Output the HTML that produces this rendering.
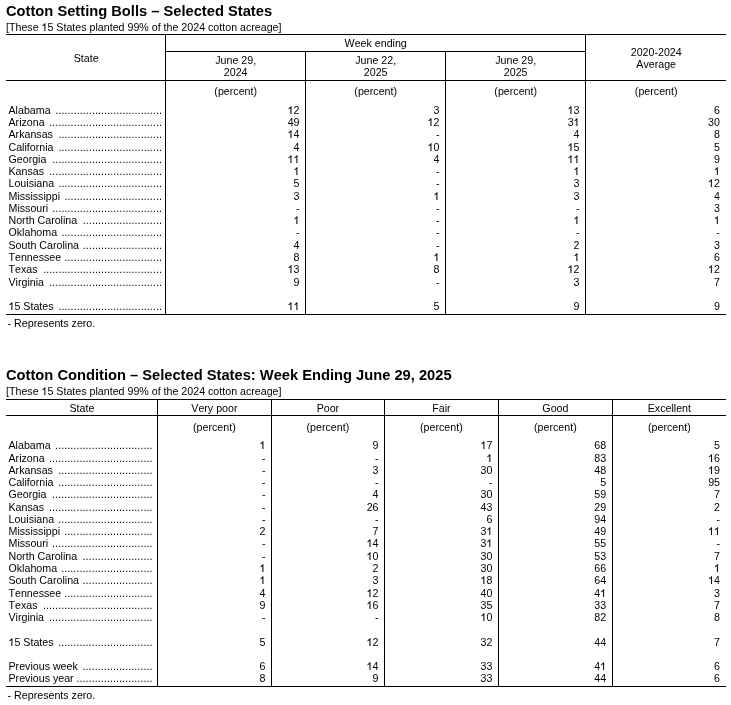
<!DOCTYPE html>
<html><head><meta charset="utf-8"><title>Cotton</title>
<style>
html,body{margin:0;padding:0;background:#fff;}
body{width:731px;height:705px;position:relative;overflow:hidden;font-family:"Liberation Sans",sans-serif;font-size:10.667px;color:#000;font-kerning:none;}
.t{position:absolute;white-space:nowrap;line-height:1;}
.h{position:absolute;background:#000;height:1px;}
.v{position:absolute;background:#000;width:1px;}
.ttl{font-weight:bold;font-size:14.7px;}
.c{text-align:center;}
.r{text-align:right;}
.o{color:transparent;}
.ov{position:absolute;left:0;top:0;width:731px;height:705px;fill:#000;stroke:#000;stroke-width:20;pointer-events:none;}
.d{text-align:right;letter-spacing:0.0862px;}
#w{position:absolute;left:0;top:0;width:731px;height:705px;will-change:transform;}
</style></head><body><div id="w">

<div class="t ttl" style="left:6px;top:4px;">Cotton Setting Bolls &ndash; Selected States</div>
<div class="t " style="left:6px;top:22px;">[These <span class="o">1</span>5 States planted 99% of the 2024 cotton acreage]</div>
<div class="h" style="left:6px;top:34px;width:720px"></div>
<div class="h" style="left:165px;top:51px;width:420px"></div>
<div class="h" style="left:6px;top:80px;width:720px"></div>
<div class="h" style="left:6px;top:314px;width:720px"></div>
<div class="v" style="left:165px;top:34px;height:280px"></div>
<div class="v" style="left:305px;top:51px;height:263px"></div>
<div class="v" style="left:445px;top:51px;height:263px"></div>
<div class="v" style="left:585px;top:34px;height:280px"></div>
<div class="t c" style="left:6.7px;top:53px;width:159px;">State</div>
<div class="t c" style="left:165.7px;top:38px;width:420px;">Week ending</div>
<div class="t c" style="left:165.7px;top:55px;width:140px;">June 29,</div>
<div class="t c" style="left:165.7px;top:67px;width:140px;">2024</div>
<div class="t c" style="left:165.7px;top:86px;width:140px;">(percent)</div>
<div class="t c" style="left:305.7px;top:55px;width:140px;">June 22,</div>
<div class="t c" style="left:305.7px;top:67px;width:140px;">2025</div>
<div class="t c" style="left:305.7px;top:86px;width:140px;">(percent)</div>
<div class="t c" style="left:445.7px;top:55px;width:140px;">June 29,</div>
<div class="t c" style="left:445.7px;top:67px;width:140px;">2025</div>
<div class="t c" style="left:445.7px;top:86px;width:140px;">(percent)</div>
<div class="t c" style="left:585.7px;top:47px;width:141px;">2020-2024</div>
<div class="t c" style="left:585.7px;top:59px;width:141px;">Average</div>
<div class="t c" style="left:585.7px;top:86px;width:141px;">(percent)</div>
<div class="t " style="left:8.5px;top:105px;">Alabama</div>
<div class="t d" style="left:6px;top:105px;width:156px;">...................................</div>
<div class="t r" style="left:165px;top:105px;width:134.5px;"><span class="o">1</span>2</div>
<div class="t r" style="left:305px;top:105px;width:134.5px;">3</div>
<div class="t r" style="left:445px;top:105px;width:134.5px;"><span class="o">1</span>3</div>
<div class="t r" style="left:585px;top:105px;width:134.9px;">6</div>
<div class="t " style="left:8.5px;top:117px;">Arizona</div>
<div class="t d" style="left:6px;top:117px;width:156px;">.....................................</div>
<div class="t r" style="left:165px;top:117px;width:134.5px;">49</div>
<div class="t r" style="left:305px;top:117px;width:134.5px;"><span class="o">1</span>2</div>
<div class="t r" style="left:445px;top:117px;width:134.5px;">3<span class="o">1</span></div>
<div class="t r" style="left:585px;top:117px;width:134.9px;">30</div>
<div class="t " style="left:8.5px;top:129px;">Arkansas</div>
<div class="t d" style="left:6px;top:129px;width:156px;">..................................</div>
<div class="t r" style="left:165px;top:129px;width:134.5px;"><span class="o">1</span>4</div>
<div class="t r" style="left:305px;top:129px;width:134.5px;">-</div>
<div class="t r" style="left:445px;top:129px;width:134.5px;">4</div>
<div class="t r" style="left:585px;top:129px;width:134.9px;">8</div>
<div class="t " style="left:8.5px;top:142px;">California</div>
<div class="t d" style="left:6px;top:142px;width:156px;">..................................</div>
<div class="t r" style="left:165px;top:142px;width:134.5px;">4</div>
<div class="t r" style="left:305px;top:142px;width:134.5px;"><span class="o">1</span>0</div>
<div class="t r" style="left:445px;top:142px;width:134.5px;"><span class="o">1</span>5</div>
<div class="t r" style="left:585px;top:142px;width:134.9px;">5</div>
<div class="t " style="left:8.5px;top:154px;">Georgia</div>
<div class="t d" style="left:6px;top:154px;width:156px;">....................................</div>
<div class="t r" style="left:165px;top:154px;width:134.5px;"><span class="o">1</span><span class="o">1</span></div>
<div class="t r" style="left:305px;top:154px;width:134.5px;">4</div>
<div class="t r" style="left:445px;top:154px;width:134.5px;"><span class="o">1</span><span class="o">1</span></div>
<div class="t r" style="left:585px;top:154px;width:134.9px;">9</div>
<div class="t " style="left:8.5px;top:166px;">Kansas</div>
<div class="t d" style="left:6px;top:166px;width:156px;">.....................................</div>
<div class="t r" style="left:165px;top:166px;width:134.5px;"><span class="o">1</span></div>
<div class="t r" style="left:305px;top:166px;width:134.5px;">-</div>
<div class="t r" style="left:445px;top:166px;width:134.5px;"><span class="o">1</span></div>
<div class="t r" style="left:585px;top:166px;width:134.9px;"><span class="o">1</span></div>
<div class="t " style="left:8.5px;top:178px;">Louisiana</div>
<div class="t d" style="left:6px;top:178px;width:156px;">..................................</div>
<div class="t r" style="left:165px;top:178px;width:134.5px;">5</div>
<div class="t r" style="left:305px;top:178px;width:134.5px;">-</div>
<div class="t r" style="left:445px;top:178px;width:134.5px;">3</div>
<div class="t r" style="left:585px;top:178px;width:134.9px;"><span class="o">1</span>2</div>
<div class="t " style="left:8.5px;top:191px;">Mississippi</div>
<div class="t d" style="left:6px;top:191px;width:156px;">................................</div>
<div class="t r" style="left:165px;top:191px;width:134.5px;">3</div>
<div class="t r" style="left:305px;top:191px;width:134.5px;"><span class="o">1</span></div>
<div class="t r" style="left:445px;top:191px;width:134.5px;">3</div>
<div class="t r" style="left:585px;top:191px;width:134.9px;">4</div>
<div class="t " style="left:8.5px;top:203px;">Missouri</div>
<div class="t d" style="left:6px;top:203px;width:156px;">....................................</div>
<div class="t r" style="left:165px;top:203px;width:134.5px;">-</div>
<div class="t r" style="left:305px;top:203px;width:134.5px;">-</div>
<div class="t r" style="left:445px;top:203px;width:134.5px;">-</div>
<div class="t r" style="left:585px;top:203px;width:134.9px;">3</div>
<div class="t " style="left:8.5px;top:215px;">North Carolina</div>
<div class="t d" style="left:6px;top:215px;width:156px;">..........................</div>
<div class="t r" style="left:165px;top:215px;width:134.5px;"><span class="o">1</span></div>
<div class="t r" style="left:305px;top:215px;width:134.5px;">-</div>
<div class="t r" style="left:445px;top:215px;width:134.5px;"><span class="o">1</span></div>
<div class="t r" style="left:585px;top:215px;width:134.9px;"><span class="o">1</span></div>
<div class="t " style="left:8.5px;top:227px;">Oklahoma</div>
<div class="t d" style="left:6px;top:227px;width:156px;">.................................</div>
<div class="t r" style="left:165px;top:227px;width:134.5px;">-</div>
<div class="t r" style="left:305px;top:227px;width:134.5px;">-</div>
<div class="t r" style="left:445px;top:227px;width:134.5px;">-</div>
<div class="t r" style="left:585px;top:227px;width:134.9px;">-</div>
<div class="t " style="left:8.5px;top:240px;">South Carolina</div>
<div class="t d" style="left:6px;top:240px;width:156px;">..........................</div>
<div class="t r" style="left:165px;top:240px;width:134.5px;">4</div>
<div class="t r" style="left:305px;top:240px;width:134.5px;">-</div>
<div class="t r" style="left:445px;top:240px;width:134.5px;">2</div>
<div class="t r" style="left:585px;top:240px;width:134.9px;">3</div>
<div class="t " style="left:8.5px;top:252px;">Tennessee</div>
<div class="t d" style="left:6px;top:252px;width:156px;">................................</div>
<div class="t r" style="left:165px;top:252px;width:134.5px;">8</div>
<div class="t r" style="left:305px;top:252px;width:134.5px;"><span class="o">1</span></div>
<div class="t r" style="left:445px;top:252px;width:134.5px;"><span class="o">1</span></div>
<div class="t r" style="left:585px;top:252px;width:134.9px;">6</div>
<div class="t " style="left:8.5px;top:264px;">Texas</div>
<div class="t d" style="left:6px;top:264px;width:156px;">.......................................</div>
<div class="t r" style="left:165px;top:264px;width:134.5px;"><span class="o">1</span>3</div>
<div class="t r" style="left:305px;top:264px;width:134.5px;">8</div>
<div class="t r" style="left:445px;top:264px;width:134.5px;"><span class="o">1</span>2</div>
<div class="t r" style="left:585px;top:264px;width:134.9px;"><span class="o">1</span>2</div>
<div class="t " style="left:8.5px;top:277px;">Virginia</div>
<div class="t d" style="left:6px;top:277px;width:156px;">.....................................</div>
<div class="t r" style="left:165px;top:277px;width:134.5px;">9</div>
<div class="t r" style="left:305px;top:277px;width:134.5px;">-</div>
<div class="t r" style="left:445px;top:277px;width:134.5px;">3</div>
<div class="t r" style="left:585px;top:277px;width:134.9px;">7</div>
<div class="t " style="left:8.5px;top:301px;"><span class="o">1</span>5 States</div>
<div class="t d" style="left:6px;top:301px;width:156px;">..................................</div>
<div class="t r" style="left:165px;top:301px;width:134.5px;"><span class="o">1</span><span class="o">1</span></div>
<div class="t r" style="left:305px;top:301px;width:134.5px;">5</div>
<div class="t r" style="left:445px;top:301px;width:134.5px;">9</div>
<div class="t r" style="left:585px;top:301px;width:134.9px;">9</div>
<div class="t " style="left:7.6px;top:318px;">- Represents zero.</div>
<div class="t ttl" style="left:6px;top:368px;">Cotton Condition &ndash; Selected States: Week Ending June 29, 2025</div>
<div class="t " style="left:6px;top:386px;">[These <span class="o">1</span>5 States planted 99% of the 2024 cotton acreage]</div>
<div class="h" style="left:6px;top:399px;width:720px"></div>
<div class="h" style="left:6px;top:415px;width:720px"></div>
<div class="h" style="left:6px;top:686px;width:720px"></div>
<div class="v" style="left:157px;top:399px;height:287px"></div>
<div class="v" style="left:271px;top:399px;height:287px"></div>
<div class="v" style="left:384px;top:399px;height:287px"></div>
<div class="v" style="left:498px;top:399px;height:287px"></div>
<div class="v" style="left:612px;top:399px;height:287px"></div>
<div class="t c" style="left:6.4px;top:403px;width:151px;">State</div>
<div class="t c" style="left:157.4px;top:403px;width:114px;">Very poor</div>
<div class="t c" style="left:157.4px;top:422px;width:114px;">(percent)</div>
<div class="t c" style="left:271.4px;top:403px;width:113px;">Poor</div>
<div class="t c" style="left:271.4px;top:422px;width:113px;">(percent)</div>
<div class="t c" style="left:384.4px;top:403px;width:114px;">Fair</div>
<div class="t c" style="left:384.4px;top:422px;width:114px;">(percent)</div>
<div class="t c" style="left:498.4px;top:403px;width:114px;">Good</div>
<div class="t c" style="left:498.4px;top:422px;width:114px;">(percent)</div>
<div class="t c" style="left:612.4px;top:403px;width:114px;">Excellent</div>
<div class="t c" style="left:612.4px;top:422px;width:114px;">(percent)</div>
<div class="t " style="left:8.5px;top:440px;">Alabama</div>
<div class="t d" style="left:6px;top:440px;width:146.6px;">................................</div>
<div class="t r" style="left:157px;top:440px;width:108.5px;"><span class="o">1</span></div>
<div class="t r" style="left:271px;top:440px;width:107.5px;">9</div>
<div class="t r" style="left:384px;top:440px;width:108.4px;"><span class="o">1</span>7</div>
<div class="t r" style="left:498px;top:440px;width:108.2px;">68</div>
<div class="t r" style="left:612px;top:440px;width:108.0px;">5</div>
<div class="t " style="left:8.5px;top:453px;">Arizona</div>
<div class="t d" style="left:6px;top:453px;width:146.6px;">..................................</div>
<div class="t r" style="left:157px;top:453px;width:108.5px;">-</div>
<div class="t r" style="left:271px;top:453px;width:107.5px;">-</div>
<div class="t r" style="left:384px;top:453px;width:108.4px;"><span class="o">1</span></div>
<div class="t r" style="left:498px;top:453px;width:108.2px;">83</div>
<div class="t r" style="left:612px;top:453px;width:108.0px;"><span class="o">1</span>6</div>
<div class="t " style="left:8.5px;top:465px;">Arkansas</div>
<div class="t d" style="left:6px;top:465px;width:146.6px;">...............................</div>
<div class="t r" style="left:157px;top:465px;width:108.5px;">-</div>
<div class="t r" style="left:271px;top:465px;width:107.5px;">3</div>
<div class="t r" style="left:384px;top:465px;width:108.4px;">30</div>
<div class="t r" style="left:498px;top:465px;width:108.2px;">48</div>
<div class="t r" style="left:612px;top:465px;width:108.0px;"><span class="o">1</span>9</div>
<div class="t " style="left:8.5px;top:477px;">California</div>
<div class="t d" style="left:6px;top:477px;width:146.6px;">...............................</div>
<div class="t r" style="left:157px;top:477px;width:108.5px;">-</div>
<div class="t r" style="left:271px;top:477px;width:107.5px;">-</div>
<div class="t r" style="left:384px;top:477px;width:108.4px;">-</div>
<div class="t r" style="left:498px;top:477px;width:108.2px;">5</div>
<div class="t r" style="left:612px;top:477px;width:108.0px;">95</div>
<div class="t " style="left:8.5px;top:489px;">Georgia</div>
<div class="t d" style="left:6px;top:489px;width:146.6px;">.................................</div>
<div class="t r" style="left:157px;top:489px;width:108.5px;">-</div>
<div class="t r" style="left:271px;top:489px;width:107.5px;">4</div>
<div class="t r" style="left:384px;top:489px;width:108.4px;">30</div>
<div class="t r" style="left:498px;top:489px;width:108.2px;">59</div>
<div class="t r" style="left:612px;top:489px;width:108.0px;">7</div>
<div class="t " style="left:8.5px;top:502px;">Kansas</div>
<div class="t d" style="left:6px;top:502px;width:146.6px;">..................................</div>
<div class="t r" style="left:157px;top:502px;width:108.5px;">-</div>
<div class="t r" style="left:271px;top:502px;width:107.5px;">26</div>
<div class="t r" style="left:384px;top:502px;width:108.4px;">43</div>
<div class="t r" style="left:498px;top:502px;width:108.2px;">29</div>
<div class="t r" style="left:612px;top:502px;width:108.0px;">2</div>
<div class="t " style="left:8.5px;top:514px;">Louisiana</div>
<div class="t d" style="left:6px;top:514px;width:146.6px;">...............................</div>
<div class="t r" style="left:157px;top:514px;width:108.5px;">-</div>
<div class="t r" style="left:271px;top:514px;width:107.5px;">-</div>
<div class="t r" style="left:384px;top:514px;width:108.4px;">6</div>
<div class="t r" style="left:498px;top:514px;width:108.2px;">94</div>
<div class="t r" style="left:612px;top:514px;width:108.0px;">-</div>
<div class="t " style="left:8.5px;top:526px;">Mississippi</div>
<div class="t d" style="left:6px;top:526px;width:146.6px;">.............................</div>
<div class="t r" style="left:157px;top:526px;width:108.5px;">2</div>
<div class="t r" style="left:271px;top:526px;width:107.5px;">7</div>
<div class="t r" style="left:384px;top:526px;width:108.4px;">3<span class="o">1</span></div>
<div class="t r" style="left:498px;top:526px;width:108.2px;">49</div>
<div class="t r" style="left:612px;top:526px;width:108.0px;"><span class="o">1</span><span class="o">1</span></div>
<div class="t " style="left:8.5px;top:538px;">Missouri</div>
<div class="t d" style="left:6px;top:538px;width:146.6px;">.................................</div>
<div class="t r" style="left:157px;top:538px;width:108.5px;">-</div>
<div class="t r" style="left:271px;top:538px;width:107.5px;"><span class="o">1</span>4</div>
<div class="t r" style="left:384px;top:538px;width:108.4px;">3<span class="o">1</span></div>
<div class="t r" style="left:498px;top:538px;width:108.2px;">55</div>
<div class="t r" style="left:612px;top:538px;width:108.0px;">-</div>
<div class="t " style="left:8.5px;top:551px;">North Carolina</div>
<div class="t d" style="left:6px;top:551px;width:146.6px;">.......................</div>
<div class="t r" style="left:157px;top:551px;width:108.5px;">-</div>
<div class="t r" style="left:271px;top:551px;width:107.5px;"><span class="o">1</span>0</div>
<div class="t r" style="left:384px;top:551px;width:108.4px;">30</div>
<div class="t r" style="left:498px;top:551px;width:108.2px;">53</div>
<div class="t r" style="left:612px;top:551px;width:108.0px;">7</div>
<div class="t " style="left:8.5px;top:563px;">Oklahoma</div>
<div class="t d" style="left:6px;top:563px;width:146.6px;">..............................</div>
<div class="t r" style="left:157px;top:563px;width:108.5px;"><span class="o">1</span></div>
<div class="t r" style="left:271px;top:563px;width:107.5px;">2</div>
<div class="t r" style="left:384px;top:563px;width:108.4px;">30</div>
<div class="t r" style="left:498px;top:563px;width:108.2px;">66</div>
<div class="t r" style="left:612px;top:563px;width:108.0px;"><span class="o">1</span></div>
<div class="t " style="left:8.5px;top:575px;">South Carolina</div>
<div class="t d" style="left:6px;top:575px;width:146.6px;">.......................</div>
<div class="t r" style="left:157px;top:575px;width:108.5px;"><span class="o">1</span></div>
<div class="t r" style="left:271px;top:575px;width:107.5px;">3</div>
<div class="t r" style="left:384px;top:575px;width:108.4px;"><span class="o">1</span>8</div>
<div class="t r" style="left:498px;top:575px;width:108.2px;">64</div>
<div class="t r" style="left:612px;top:575px;width:108.0px;"><span class="o">1</span>4</div>
<div class="t " style="left:8.5px;top:588px;">Tennessee</div>
<div class="t d" style="left:6px;top:588px;width:146.6px;">.............................</div>
<div class="t r" style="left:157px;top:588px;width:108.5px;">4</div>
<div class="t r" style="left:271px;top:588px;width:107.5px;"><span class="o">1</span>2</div>
<div class="t r" style="left:384px;top:588px;width:108.4px;">40</div>
<div class="t r" style="left:498px;top:588px;width:108.2px;">4<span class="o">1</span></div>
<div class="t r" style="left:612px;top:588px;width:108.0px;">3</div>
<div class="t " style="left:8.5px;top:600px;">Texas</div>
<div class="t d" style="left:6px;top:600px;width:146.6px;">....................................</div>
<div class="t r" style="left:157px;top:600px;width:108.5px;">9</div>
<div class="t r" style="left:271px;top:600px;width:107.5px;"><span class="o">1</span>6</div>
<div class="t r" style="left:384px;top:600px;width:108.4px;">35</div>
<div class="t r" style="left:498px;top:600px;width:108.2px;">33</div>
<div class="t r" style="left:612px;top:600px;width:108.0px;">7</div>
<div class="t " style="left:8.5px;top:612px;">Virginia</div>
<div class="t d" style="left:6px;top:612px;width:146.6px;">..................................</div>
<div class="t r" style="left:157px;top:612px;width:108.5px;">-</div>
<div class="t r" style="left:271px;top:612px;width:107.5px;">-</div>
<div class="t r" style="left:384px;top:612px;width:108.4px;"><span class="o">1</span>0</div>
<div class="t r" style="left:498px;top:612px;width:108.2px;">82</div>
<div class="t r" style="left:612px;top:612px;width:108.0px;">8</div>
<div class="t " style="left:8.5px;top:637px;"><span class="o">1</span>5 States</div>
<div class="t d" style="left:6px;top:637px;width:146.6px;">...............................</div>
<div class="t r" style="left:157px;top:637px;width:108.5px;">5</div>
<div class="t r" style="left:271px;top:637px;width:107.5px;"><span class="o">1</span>2</div>
<div class="t r" style="left:384px;top:637px;width:108.4px;">32</div>
<div class="t r" style="left:498px;top:637px;width:108.2px;">44</div>
<div class="t r" style="left:612px;top:637px;width:108.0px;">7</div>
<div class="t " style="left:8.5px;top:661px;">Previous week</div>
<div class="t d" style="left:6px;top:661px;width:146.6px;">.......................</div>
<div class="t r" style="left:157px;top:661px;width:108.5px;">6</div>
<div class="t r" style="left:271px;top:661px;width:107.5px;"><span class="o">1</span>4</div>
<div class="t r" style="left:384px;top:661px;width:108.4px;">33</div>
<div class="t r" style="left:498px;top:661px;width:108.2px;">4<span class="o">1</span></div>
<div class="t r" style="left:612px;top:661px;width:108.0px;">6</div>
<div class="t " style="left:8.5px;top:673px;">Previous year</div>
<div class="t d" style="left:6px;top:673px;width:146.6px;">.........................</div>
<div class="t r" style="left:157px;top:673px;width:108.5px;">8</div>
<div class="t r" style="left:271px;top:673px;width:107.5px;">9</div>
<div class="t r" style="left:384px;top:673px;width:108.4px;">33</div>
<div class="t r" style="left:498px;top:673px;width:108.2px;">44</div>
<div class="t r" style="left:612px;top:673px;width:108.0px;">6</div>
<div class="t " style="left:7.6px;top:690px;">- Represents zero.</div>
<svg class="ov" viewBox="0 0 731 705"><path transform="translate(41.391 31) scale(0.0052085)" d="M763 0H583V-1147Q518-1085 412.5-1023Q307-961 223-930V-1104Q374-1175 487-1276Q600-1377 647-1472H763Z"/><path transform="translate(287.469 114) scale(0.0052085)" d="M763 0H583V-1147Q518-1085 412.5-1023Q307-961 223-930V-1104Q374-1175 487-1276Q600-1377 647-1472H763Z"/><path transform="translate(567.469 114) scale(0.0052085)" d="M763 0H583V-1147Q518-1085 412.5-1023Q307-961 223-930V-1104Q374-1175 487-1276Q600-1377 647-1472H763Z"/><path transform="translate(427.469 126) scale(0.0052085)" d="M763 0H583V-1147Q518-1085 412.5-1023Q307-961 223-930V-1104Q374-1175 487-1276Q600-1377 647-1472H763Z"/><path transform="translate(573.406 126) scale(0.0052085)" d="M763 0H583V-1147Q518-1085 412.5-1023Q307-961 223-930V-1104Q374-1175 487-1276Q600-1377 647-1472H763Z"/><path transform="translate(287.469 138) scale(0.0052085)" d="M763 0H583V-1147Q518-1085 412.5-1023Q307-961 223-930V-1104Q374-1175 487-1276Q600-1377 647-1472H763Z"/><path transform="translate(427.469 151) scale(0.0052085)" d="M763 0H583V-1147Q518-1085 412.5-1023Q307-961 223-930V-1104Q374-1175 487-1276Q600-1377 647-1472H763Z"/><path transform="translate(567.469 151) scale(0.0052085)" d="M763 0H583V-1147Q518-1085 412.5-1023Q307-961 223-930V-1104Q374-1175 487-1276Q600-1377 647-1472H763Z"/><path transform="translate(287.469 163) scale(0.0052085)" d="M763 0H583V-1147Q518-1085 412.5-1023Q307-961 223-930V-1104Q374-1175 487-1276Q600-1377 647-1472H763Z"/><path transform="translate(293.406 163) scale(0.0052085)" d="M763 0H583V-1147Q518-1085 412.5-1023Q307-961 223-930V-1104Q374-1175 487-1276Q600-1377 647-1472H763Z"/><path transform="translate(567.469 163) scale(0.0052085)" d="M763 0H583V-1147Q518-1085 412.5-1023Q307-961 223-930V-1104Q374-1175 487-1276Q600-1377 647-1472H763Z"/><path transform="translate(573.406 163) scale(0.0052085)" d="M763 0H583V-1147Q518-1085 412.5-1023Q307-961 223-930V-1104Q374-1175 487-1276Q600-1377 647-1472H763Z"/><path transform="translate(293.406 175) scale(0.0052085)" d="M763 0H583V-1147Q518-1085 412.5-1023Q307-961 223-930V-1104Q374-1175 487-1276Q600-1377 647-1472H763Z"/><path transform="translate(573.406 175) scale(0.0052085)" d="M763 0H583V-1147Q518-1085 412.5-1023Q307-961 223-930V-1104Q374-1175 487-1276Q600-1377 647-1472H763Z"/><path transform="translate(713.797 175) scale(0.0052085)" d="M763 0H583V-1147Q518-1085 412.5-1023Q307-961 223-930V-1104Q374-1175 487-1276Q600-1377 647-1472H763Z"/><path transform="translate(707.859 187) scale(0.0052085)" d="M763 0H583V-1147Q518-1085 412.5-1023Q307-961 223-930V-1104Q374-1175 487-1276Q600-1377 647-1472H763Z"/><path transform="translate(433.406 200) scale(0.0052085)" d="M763 0H583V-1147Q518-1085 412.5-1023Q307-961 223-930V-1104Q374-1175 487-1276Q600-1377 647-1472H763Z"/><path transform="translate(293.406 224) scale(0.0052085)" d="M763 0H583V-1147Q518-1085 412.5-1023Q307-961 223-930V-1104Q374-1175 487-1276Q600-1377 647-1472H763Z"/><path transform="translate(573.406 224) scale(0.0052085)" d="M763 0H583V-1147Q518-1085 412.5-1023Q307-961 223-930V-1104Q374-1175 487-1276Q600-1377 647-1472H763Z"/><path transform="translate(713.797 224) scale(0.0052085)" d="M763 0H583V-1147Q518-1085 412.5-1023Q307-961 223-930V-1104Q374-1175 487-1276Q600-1377 647-1472H763Z"/><path transform="translate(433.406 261) scale(0.0052085)" d="M763 0H583V-1147Q518-1085 412.5-1023Q307-961 223-930V-1104Q374-1175 487-1276Q600-1377 647-1472H763Z"/><path transform="translate(573.406 261) scale(0.0052085)" d="M763 0H583V-1147Q518-1085 412.5-1023Q307-961 223-930V-1104Q374-1175 487-1276Q600-1377 647-1472H763Z"/><path transform="translate(287.469 273) scale(0.0052085)" d="M763 0H583V-1147Q518-1085 412.5-1023Q307-961 223-930V-1104Q374-1175 487-1276Q600-1377 647-1472H763Z"/><path transform="translate(567.469 273) scale(0.0052085)" d="M763 0H583V-1147Q518-1085 412.5-1023Q307-961 223-930V-1104Q374-1175 487-1276Q600-1377 647-1472H763Z"/><path transform="translate(707.859 273) scale(0.0052085)" d="M763 0H583V-1147Q518-1085 412.5-1023Q307-961 223-930V-1104Q374-1175 487-1276Q600-1377 647-1472H763Z"/><path transform="translate(8.344 310) scale(0.0052085)" d="M763 0H583V-1147Q518-1085 412.5-1023Q307-961 223-930V-1104Q374-1175 487-1276Q600-1377 647-1472H763Z"/><path transform="translate(287.469 310) scale(0.0052085)" d="M763 0H583V-1147Q518-1085 412.5-1023Q307-961 223-930V-1104Q374-1175 487-1276Q600-1377 647-1472H763Z"/><path transform="translate(293.406 310) scale(0.0052085)" d="M763 0H583V-1147Q518-1085 412.5-1023Q307-961 223-930V-1104Q374-1175 487-1276Q600-1377 647-1472H763Z"/><path transform="translate(41.391 395) scale(0.0052085)" d="M763 0H583V-1147Q518-1085 412.5-1023Q307-961 223-930V-1104Q374-1175 487-1276Q600-1377 647-1472H763Z"/><path transform="translate(259.406 449) scale(0.0052085)" d="M763 0H583V-1147Q518-1085 412.5-1023Q307-961 223-930V-1104Q374-1175 487-1276Q600-1377 647-1472H763Z"/><path transform="translate(480.359 449) scale(0.0052085)" d="M763 0H583V-1147Q518-1085 412.5-1023Q307-961 223-930V-1104Q374-1175 487-1276Q600-1377 647-1472H763Z"/><path transform="translate(486.297 462) scale(0.0052085)" d="M763 0H583V-1147Q518-1085 412.5-1023Q307-961 223-930V-1104Q374-1175 487-1276Q600-1377 647-1472H763Z"/><path transform="translate(707.969 462) scale(0.0052085)" d="M763 0H583V-1147Q518-1085 412.5-1023Q307-961 223-930V-1104Q374-1175 487-1276Q600-1377 647-1472H763Z"/><path transform="translate(707.969 474) scale(0.0052085)" d="M763 0H583V-1147Q518-1085 412.5-1023Q307-961 223-930V-1104Q374-1175 487-1276Q600-1377 647-1472H763Z"/><path transform="translate(486.297 535) scale(0.0052085)" d="M763 0H583V-1147Q518-1085 412.5-1023Q307-961 223-930V-1104Q374-1175 487-1276Q600-1377 647-1472H763Z"/><path transform="translate(707.969 535) scale(0.0052085)" d="M763 0H583V-1147Q518-1085 412.5-1023Q307-961 223-930V-1104Q374-1175 487-1276Q600-1377 647-1472H763Z"/><path transform="translate(713.906 535) scale(0.0052085)" d="M763 0H583V-1147Q518-1085 412.5-1023Q307-961 223-930V-1104Q374-1175 487-1276Q600-1377 647-1472H763Z"/><path transform="translate(366.469 547) scale(0.0052085)" d="M763 0H583V-1147Q518-1085 412.5-1023Q307-961 223-930V-1104Q374-1175 487-1276Q600-1377 647-1472H763Z"/><path transform="translate(486.297 547) scale(0.0052085)" d="M763 0H583V-1147Q518-1085 412.5-1023Q307-961 223-930V-1104Q374-1175 487-1276Q600-1377 647-1472H763Z"/><path transform="translate(366.469 560) scale(0.0052085)" d="M763 0H583V-1147Q518-1085 412.5-1023Q307-961 223-930V-1104Q374-1175 487-1276Q600-1377 647-1472H763Z"/><path transform="translate(259.406 572) scale(0.0052085)" d="M763 0H583V-1147Q518-1085 412.5-1023Q307-961 223-930V-1104Q374-1175 487-1276Q600-1377 647-1472H763Z"/><path transform="translate(713.906 572) scale(0.0052085)" d="M763 0H583V-1147Q518-1085 412.5-1023Q307-961 223-930V-1104Q374-1175 487-1276Q600-1377 647-1472H763Z"/><path transform="translate(259.406 584) scale(0.0052085)" d="M763 0H583V-1147Q518-1085 412.5-1023Q307-961 223-930V-1104Q374-1175 487-1276Q600-1377 647-1472H763Z"/><path transform="translate(480.359 584) scale(0.0052085)" d="M763 0H583V-1147Q518-1085 412.5-1023Q307-961 223-930V-1104Q374-1175 487-1276Q600-1377 647-1472H763Z"/><path transform="translate(707.969 584) scale(0.0052085)" d="M763 0H583V-1147Q518-1085 412.5-1023Q307-961 223-930V-1104Q374-1175 487-1276Q600-1377 647-1472H763Z"/><path transform="translate(366.469 597) scale(0.0052085)" d="M763 0H583V-1147Q518-1085 412.5-1023Q307-961 223-930V-1104Q374-1175 487-1276Q600-1377 647-1472H763Z"/><path transform="translate(600.094 597) scale(0.0052085)" d="M763 0H583V-1147Q518-1085 412.5-1023Q307-961 223-930V-1104Q374-1175 487-1276Q600-1377 647-1472H763Z"/><path transform="translate(366.469 609) scale(0.0052085)" d="M763 0H583V-1147Q518-1085 412.5-1023Q307-961 223-930V-1104Q374-1175 487-1276Q600-1377 647-1472H763Z"/><path transform="translate(480.359 621) scale(0.0052085)" d="M763 0H583V-1147Q518-1085 412.5-1023Q307-961 223-930V-1104Q374-1175 487-1276Q600-1377 647-1472H763Z"/><path transform="translate(8.344 646) scale(0.0052085)" d="M763 0H583V-1147Q518-1085 412.5-1023Q307-961 223-930V-1104Q374-1175 487-1276Q600-1377 647-1472H763Z"/><path transform="translate(366.469 646) scale(0.0052085)" d="M763 0H583V-1147Q518-1085 412.5-1023Q307-961 223-930V-1104Q374-1175 487-1276Q600-1377 647-1472H763Z"/><path transform="translate(366.469 670) scale(0.0052085)" d="M763 0H583V-1147Q518-1085 412.5-1023Q307-961 223-930V-1104Q374-1175 487-1276Q600-1377 647-1472H763Z"/><path transform="translate(600.094 670) scale(0.0052085)" d="M763 0H583V-1147Q518-1085 412.5-1023Q307-961 223-930V-1104Q374-1175 487-1276Q600-1377 647-1472H763Z"/></svg>
</div></body></html>
